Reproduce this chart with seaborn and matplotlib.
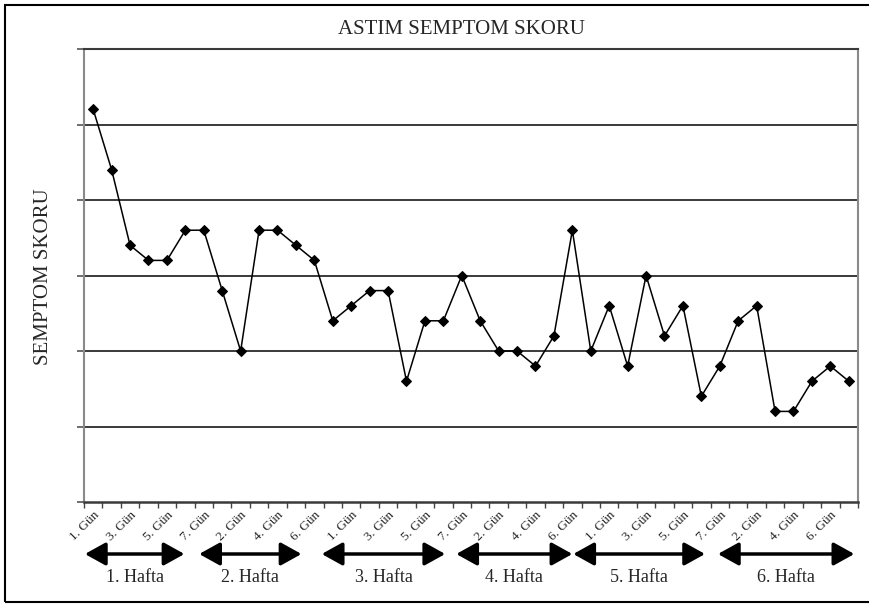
import matplotlib
matplotlib.use("Agg")
import matplotlib.pyplot as plt
from matplotlib.patches import Rectangle
import seaborn as sns
import pandas as pd
import numpy as np

# ---- data ----
days_per_week = 7
weeks = ["1. Hafta", "2. Hafta", "3. Hafta", "4. Hafta", "5. Hafta", "6. Hafta"]
scores = [2.6, 2.2, 1.7, 1.6, 1.6, 1.8, 1.8,
          1.4, 1.0, 1.8, 1.8, 1.7, 1.6, 1.2,
          1.3, 1.4, 1.4, 0.8, 1.2, 1.2, 1.5,
          1.2, 1.0, 1.0, 0.9, 1.1, 1.8, 1.0,
          1.3, 0.9, 1.5, 1.1, 1.3, 0.7, 0.9,
          1.2, 1.3, 0.6, 0.6, 0.8, 0.9, 0.8]
day_labels = [f"{i % days_per_week + 1}. Gün" for i in range(len(scores))]
title = "ASTIM SEMPTOM SKORU"
ylabel = "SEMPTOM SKORU"

df = pd.DataFrame({"idx": np.arange(len(scores)), "score": scores})

sns.set_theme(style="white")
plt.rcParams["font.family"] = ["Liberation Serif", "DejaVu Serif"]

W, H = 870, 607
fig = plt.figure(figsize=(W / 100, H / 100), dpi=100)
fig.patch.set_facecolor("white")

ax = fig.add_axes([84 / W, 1 - 502 / H, (858 - 84) / W, (502 - 49) / H])

sns.lineplot(data=df, x="idx", y="score", ax=ax, color="black", lw=1.1,
             marker="D", markersize=5.5, markeredgecolor="black",
             markerfacecolor="black")

ax.set_xlim(-0.5, len(scores) - 0.5)
ax.set_ylim(0, 3)
ax.set_xlabel("")
ax.set_ylabel("")

# horizontal gridlines
yt = np.arange(0, 3.01, 0.5)
ax.set_yticks(yt)
ax.set_yticklabels([])
for y in yt[1:]:
    ax.axhline(y, color="#3a3a3a", lw=1.4, zorder=1)
ax.tick_params(axis="y", left=True, length=5, width=1.2, color="#555555")

# x ticks: boundaries as minor ticks, labels every other day
ax.set_xticks(np.arange(-0.5, len(scores), 1.0), minor=True)
lab_idx = list(range(0, len(scores), 2))
ax.set_xticks(lab_idx)
ax.set_xticklabels([day_labels[i] for i in lab_idx], rotation=45, ha="right",
                   rotation_mode="anchor", fontsize=9.5)
ax.tick_params(axis="x", which="major", length=0, pad=5)
ax.tick_params(axis="x", which="minor", bottom=True, length=4, width=1.0, color="#444444")

for s in ["left", "right", "top"]:
    ax.spines[s].set_color("#8a8a8a")
    ax.spines[s].set_linewidth(1.5)
    ax.spines[s].set_visible(True)
ax.spines["top"].set_color("#3a3a3a")
ax.spines["bottom"].set_color("#3a3a3a")
ax.spines["bottom"].set_linewidth(1.8)

# week arrows and labels
arrow_spans = [(-0.45, 4.95), (5.75, 11.3), (12.4, 19.1), (19.7, 26.0), (26.05, 33.2), (33.9, 41.3)]
arrow_y = 1 - 554 / H
label_y = 1 - 578 / H
for wk, (x0, x1) in zip(weeks, arrow_spans):
    ax.annotate("", xy=(x1, arrow_y), xytext=(x0, arrow_y),
                xycoords=("data", "figure fraction"), textcoords=("data", "figure fraction"),
                arrowprops=dict(arrowstyle="<|-|>,head_length=0.9,head_width=0.5",
                                mutation_scale=14, lw=2.5, color="black",
                                shrinkA=0, shrinkB=0), annotation_clip=False)
    ax.annotate(wk, xy=((x0 + x1) / 2, label_y), xycoords=("data", "figure fraction"),
                ha="center", va="center", fontsize=13, annotation_clip=False)

fig.text(462 / W, 1 - 30 / H, title, ha="center", va="center", fontsize=15)
fig.text(44 / W, 1 - 277 / H, ylabel, ha="center", va="center", rotation=90, fontsize=15)

# outer frame
fig.patches.append(Rectangle((5 / W, 1 - 602 / H), 1.2, (602 - 5) / H,
                             transform=fig.transFigure, fill=False,
                             edgecolor="black", lw=1.5))

fig.savefig("out.png", dpi=100, facecolor="white")
